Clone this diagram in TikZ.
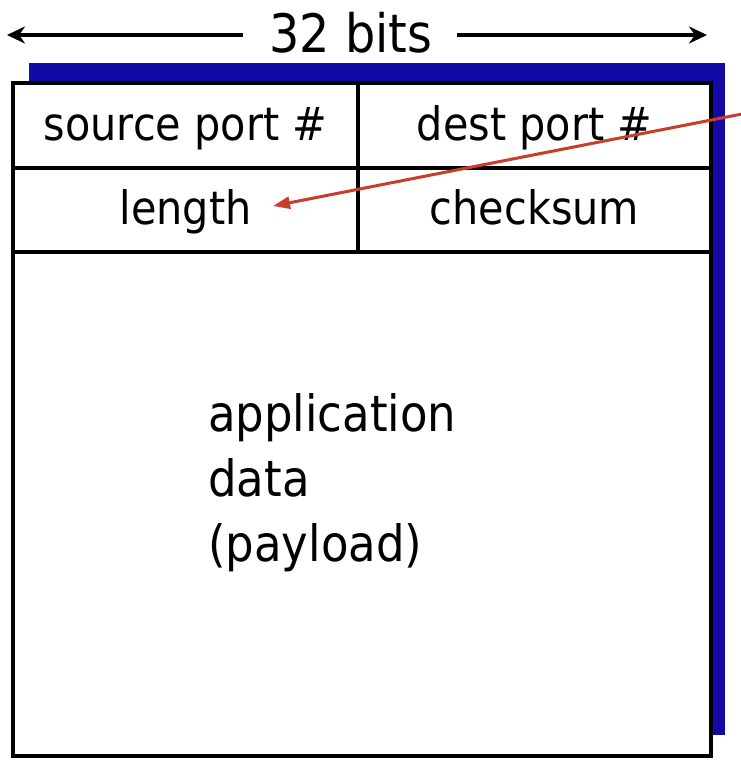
\documentclass[tikz,border=0pt]{standalone}
\usepackage{fontspec}
\setmainfont{DejaVu Sans}[FakeStretch=0.9]
\usetikzlibrary{arrows.meta}
\definecolor{shadowblue}{RGB}{18,10,165}
\definecolor{arrowred}{RGB}{200,62,40}
\tikzset{
  cell/.style={draw=black, fill=white, line width=3.5pt, inner sep=0pt, outer sep=0pt,
    text height=38pt, text depth=9pt, font=\fontsize{46}{55}\selectfont},
  dimarrow/.style={line width=3.5pt, -{Stealth[length=18pt,width=17pt]}},
  redarrow/.style={draw=arrowred, line width=3pt, -{Triangle[length=17pt,width=12pt]}},
}
\begin{document}
\begin{tikzpicture}[x=1pt,y=-1pt]
\useasboundingbox (0,0) rectangle (740,774);
% title with dimension arrows
\node[inner sep=0pt, font=\fontsize{53}{60}\selectfont] (title) at (351,33) {32 bits};
\coordinate (bl) at (7,35);
\coordinate (br) at (707,35);
\draw[dimarrow] ([xshift=-26pt]title.west |- bl) -- (bl);
\draw[dimarrow] ([xshift=24pt]title.east |- br) -- (br);
% blue shadow
\fill[shadowblue] (29,63) rectangle (725,735);
% cells
\node[cell, minimum width=345pt, minimum height=85pt] (source) at (185.5,125.5) {source port \#};
\node[cell, minimum width=353pt, minimum height=85pt] (dest) at (534.5,125.5) {dest port \#};
\node[cell, minimum width=345pt, minimum height=84pt] (length) at (185.5,210) {length};
\node[cell, minimum width=353pt, minimum height=84pt] (checksum) at (534.5,210) {checksum};
\node[cell, minimum width=698pt, minimum height=504pt, text height=, text depth=] (payload) at (362,504) {};
\node[inner sep=0pt, anchor=north west, align=left, font=\fontsize{50}{65}\selectfont]
  (payloadtext) at (208,393) {application\\data\\(payload)};
% red pointer arrow
\coordinate (rstart) at (742,114);
\draw[redarrow] (rstart) -- ([xshift=-85pt,yshift=4pt]length.east);
\end{tikzpicture}
\end{document}
